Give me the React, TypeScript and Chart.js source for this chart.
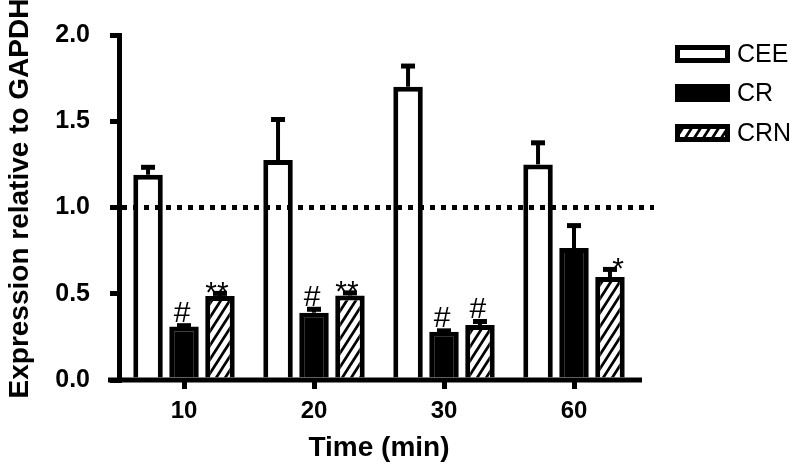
import React, { useEffect, useRef } from 'react';
import { Chart, registerables } from 'chart.js';

Chart.register(...registerables);

// ---- data ----
const categories = ['10', '20', '30', '60'];
const seriesNames = ['CEE', 'CR', 'CRN'];
const ceeValues = [1.19, 1.275, 1.7, 1.25];
const ceeErrors = [0.043, 0.235, 0.12, 0.125];
const crValues = [0.31, 0.39, 0.28, 0.765];
const crErrors = [0.005, 0.02, 0.005, 0.13];
const crnValues = [0.487, 0.49, 0.319, 0.597];
const crnErrors = [0.015, 0.015, 0.02, 0.044];
const ceeMarks = ['', '', '', ''];
const crMarks = ['#', '#', '#', ''];
const crnMarks = ['**', '**', '#', '*'];
const yTicks = [0, 0.5, 1.0, 1.5, 2.0];
const referenceLevel = 1.0;
const xTitle = 'Time (min)';
const yTitle = 'Expression relative to GAPDH';

function makeHatch(): CanvasPattern | string {
  const w = 9;
  const h = 14;
  const c = document.createElement('canvas');
  c.width = w;
  c.height = h;
  const g = c.getContext('2d');
  if (!g) return '#fff';
  g.fillStyle = '#fff';
  g.fillRect(0, 0, w, h);
  g.strokeStyle = '#000';
  g.lineWidth = 2.8;
  g.lineCap = 'square';
  const seg = (x0: number, y0: number, x1: number, y1: number) => {
    g.beginPath();
    g.moveTo(x0, y0);
    g.lineTo(x1, y1);
    g.stroke();
  };
  seg(0, h, w, 0);
  seg(-w, h, 0, 0);
  seg(w, h, 2 * w, 0);
  const p = g.createPattern(c, 'repeat');
  return p || '#fff';
}

export default function App() {
  const ref = useRef<HTMLCanvasElement | null>(null);

  useEffect(() => {
    const canvas = ref.current;
    if (!canvas) return;
    const hatch = makeHatch();
    const fills = ['#ffffff', '#000000', hatch];
    const errs = [ceeErrors, crErrors, crnErrors];
    const marks = [ceeMarks, crMarks, crnMarks];
    const font = 'Liberation Sans, Arial, sans-serif';

    const overlay = {
      id: 'overlay',
      afterDatasetsDraw(chart: any) {
        const ctx = chart.ctx;
        const ys = chart.scales.y;
        const area = chart.chartArea;
        ctx.save();
        // error bars
        chart.data.datasets.forEach((ds: any, di: number) => {
          const meta = chart.getDatasetMeta(di);
          meta.data.forEach((el: any, i: number) => {
            const v = ds.data[i];
            const e = errs[di][i];
            const top = el.y;
            const ey = ys.getPixelForValue(v + e);
            ctx.strokeStyle = '#000';
            ctx.lineWidth = 4;
            ctx.beginPath();
            ctx.moveTo(el.x, top);
            ctx.lineTo(el.x, ey);
            ctx.stroke();
            ctx.lineWidth = 5;
            ctx.beginPath();
            ctx.moveTo(el.x - 7, ey);
            ctx.lineTo(el.x + 7, ey);
            ctx.stroke();
          });
        });
        // dotted reference line
        const ry = ys.getPixelForValue(referenceLevel);
        ctx.strokeStyle = '#000';
        ctx.lineWidth = 5;
        ctx.setLineDash([5, 6]);
        ctx.beginPath();
        ctx.moveTo(area.left + 3, ry);
        ctx.lineTo(area.right + 15, ry);
        ctx.stroke();
        ctx.setLineDash([]);
        ctx.restore();
      },
      afterDraw(chart: any) {
        const ctx = chart.ctx;
        const ys = chart.scales.y;
        const area = chart.chartArea;
        ctx.save();
        // x axis line
        ctx.strokeStyle = '#000';
        ctx.lineWidth = 5;
        ctx.beginPath();
        ctx.moveTo(area.left - 11, area.bottom);
        ctx.lineTo(area.right + 3, area.bottom);
        ctx.stroke();
        // y axis title
        ctx.save();
        ctx.translate(20, (area.top + area.bottom) / 2 - 9);
        ctx.rotate(-Math.PI / 2);
        ctx.fillStyle = '#000';
        ctx.font = `bold 28px ${font}`;
        ctx.textAlign = 'center';
        ctx.textBaseline = 'middle';
        ctx.fillText(yTitle, 0, 0);
        ctx.restore();
        // significance marks
        const fs = 30;
        ctx.fillStyle = '#000';
        ctx.textAlign = 'center';
        ctx.textBaseline = 'alphabetic';
        ctx.font = `${fs}px ${font}`;
        chart.data.datasets.forEach((ds: any, di: number) => {
          const meta = chart.getDatasetMeta(di);
          meta.data.forEach((el: any, i: number) => {
            const m = marks[di][i];
            if (!m) return;
            const v = ds.data[i];
            const e = errs[di][i];
            const capTop = ys.getPixelForValue(v + e) - 2.5;
            const anchor = Math.min(el.y, capTop);
            if (m.indexOf('*') >= 0) {
              const dx = m.length === 1 ? 8 : -3;
              ctx.fillText(m, el.x + dx, anchor - 1 + 0.39 * fs);
            } else {
              ctx.fillText(m, el.x - 2, anchor - 1);
            }
          });
        });
        // legend
        const bx = 675;
        const bw = 55;
        const bh = 18;
        const tops = [45, 84, 124];
        ctx.font = `25px ${font}`;
        ctx.textAlign = 'left';
        ctx.textBaseline = 'middle';
        seriesNames.forEach((name, i) => {
          const t = tops[i];
          ctx.fillStyle = fills[i] as any;
          ctx.fillRect(bx, t, bw, bh);
          ctx.strokeStyle = '#000';
          ctx.lineWidth = 5;
          ctx.strokeRect(bx + 2.5, t + 2.5, bw - 5, bh - 5);
          ctx.fillStyle = '#000';
          ctx.fillText(name, bx + bw + 7, t + bh / 2 + 1);
        });
        ctx.restore();
      },
    };

    const chart = new Chart(canvas, {
      type: 'bar',
      data: {
        labels: categories,
        datasets: [
          { label: seriesNames[0], data: ceeValues, backgroundColor: fills[0] as any },
          { label: seriesNames[1], data: crValues, backgroundColor: fills[1] as any },
          { label: seriesNames[2], data: crnValues, backgroundColor: fills[2] as any },
        ].map((d) => ({
          ...d,
          borderColor: '#000',
          borderWidth: 5,
          borderSkipped: 'bottom' as const,
          categoryPercentage: 0.83,
          barPercentage: 0.82,
        })),
      },
      options: {
        responsive: false,
        animation: false,
        devicePixelRatio: 1,
        layout: { padding: { top: 35, right: 161, left: 0, bottom: 0 } },
        plugins: { legend: { display: false }, tooltip: { enabled: false } },
        scales: {
          x: {
            offset: true,
            grid: {
              display: true,
              offset: false,
              drawOnChartArea: false,
              drawTicks: true,
              tickLength: 9,
              lineWidth: 5,
              color: '#000',
            },
            border: { display: false },
            ticks: {
              color: '#000',
              padding: 8,
              font: { family: font, weight: 'bold', size: 24 },
            },
            title: {
              display: true,
              text: xTitle,
              color: '#000',
              font: { family: font, weight: 'bold', size: 28 },
              padding: { top: 0, bottom: 5 },
            },
            afterFit(scale: any) {
              scale.height = 90;
            },
          },
          y: {
            min: 0,
            max: 2,
            grid: {
              display: true,
              drawOnChartArea: false,
              drawTicks: true,
              tickLength: 9,
              lineWidth: 5,
              color: '#000',
            },
            border: { display: true, width: 5, color: '#000' },
            afterBuildTicks(scale: any) {
              scale.ticks = yTicks.map((v) => ({ value: v }));
            },
            ticks: {
              color: '#000',
              padding: 20,
              font: { family: font, weight: 'bold', size: 25 },
              callback: (v: any) => Number(v).toFixed(1),
            },
            title: { display: false },
            afterFit(scale: any) {
              scale.width = 119;
            },
          },
        },
      },
      plugins: [overlay],
    });
    return () => chart.destroy();
  }, []);

  return (
    <div style={{ position: 'absolute', left: 0, top: 0, width: 800, height: 470, background: '#fff' }}>
      <canvas ref={ref} width={800} height={470} />
    </div>
  );
}
